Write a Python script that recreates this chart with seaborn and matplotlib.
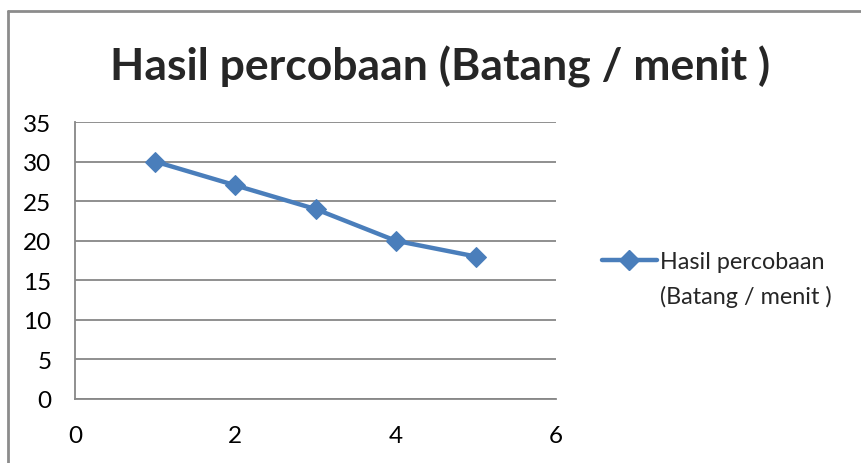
import matplotlib
matplotlib.use("Agg")
import matplotlib.pyplot as plt
import seaborn as sns
import pandas as pd
from matplotlib.lines import Line2D

x_vals = [1, 2, 3, 4, 5]
y_vals = [30, 27, 24, 20, 18]
series_label_lines = ["Hasil percobaan", "(Batang / menit )"]
title = "Hasil percobaan (Batang / menit )"
x_ticks = [0, 2, 4, 6]
y_ticks = [0, 5, 10, 15, 20, 25, 30, 35]

sns.set_style("white")
plt.rcParams["font.family"] = ["Lato", "DejaVu Sans"]

df = pd.DataFrame({"x": x_vals, "y": y_vals})

fig = plt.figure(figsize=(8.61, 4.64), dpi=100)
ax = fig.add_axes([75/861, 1-400/464, (556-75)/861, (400-123)/464])

color = "#4A7EBB"
grid_c = "#878787"
sns.lineplot(data=df, x="x", y="y", ax=ax, color=color, linewidth=3.2,
             marker="D", markersize=10, markeredgecolor=color, legend=False)

ax.set_xlim(0, 6)
ax.set_ylim(0, 35)
ax.set_xticks(x_ticks)
ax.set_yticks(y_ticks)
ax.set_xlabel("")
ax.set_ylabel("")
ax.yaxis.grid(True, color=grid_c, linewidth=1.3)
ax.set_axisbelow(True)
for s in ["top", "right"]:
    ax.spines[s].set_visible(False)
for s in ["left", "bottom"]:
    ax.spines[s].set_color(grid_c)
    ax.spines[s].set_linewidth(1.3)
ax.tick_params(axis="both", direction="out", length=7, width=1.3, color=grid_c,
               labelsize=17.5, labelcolor="black")
ax.tick_params(axis="y", pad=10)
ax.tick_params(axis="x", pad=12)

fig.text(440/861, 1-67/464, title, ha="center", va="center",
         fontsize=32, fontweight="bold")

handle = Line2D([0], [0], color=color, linewidth=3.2, marker="D",
                markersize=10, markeredgecolor=color)
blank = Line2D([0], [0], color="none")
fig.legend([handle, blank], series_label_lines, loc="upper left",
           bbox_to_anchor=(602/861, 1-252/464), frameon=False,
           fontsize=16.8, handlelength=2.35, handletextpad=0.12,
           labelspacing=0.55, borderaxespad=0, borderpad=0)

# outer chart border (left and top visible)
fig.add_artist(Line2D([7.5/861, 7.5/861], [0, 1-12/464], color="#8c8c8c",
                      linewidth=2, transform=fig.transFigure))
fig.add_artist(Line2D([7.5/861, 1], [1-12/464, 1-12/464], color="#8c8c8c",
                      linewidth=2, transform=fig.transFigure))

fig.savefig("out.png", dpi=100)
